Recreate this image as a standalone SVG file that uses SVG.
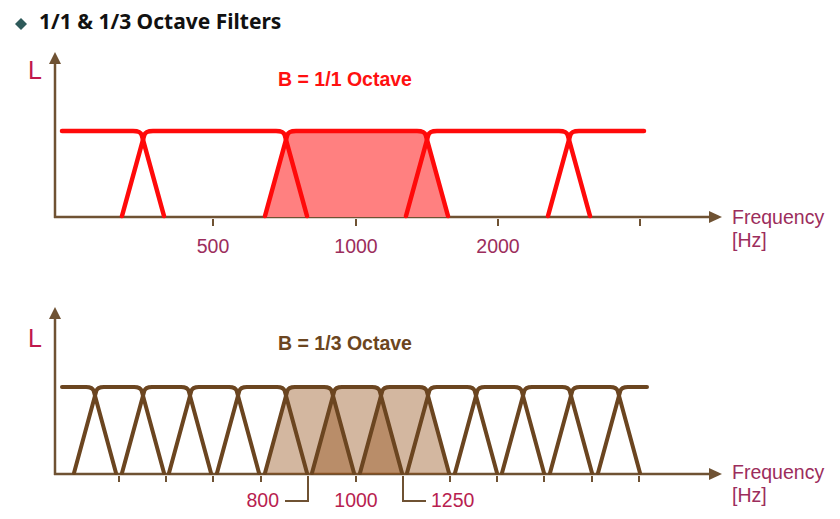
<svg xmlns="http://www.w3.org/2000/svg" width="840" height="519" viewBox="0 0 840 519">
<style>
.ax{stroke:#6f5233;stroke-width:2.5;fill:none}
.ah{fill:#6f5233}
.tk{stroke:#6f5233;stroke-width:2;fill:none}
.red{stroke:#ff0a0a;stroke-width:4.5;fill:none;stroke-linecap:round;stroke-linejoin:round}
.brn{stroke:#6b4520;stroke-width:4;fill:none;stroke-linecap:round;stroke-linejoin:round}
.rf{fill:#ff8080;stroke:none}
.bf{fill:rgb(150,83,28);fill-opacity:0.42;stroke:none}
.lab{font-family:"Liberation Sans",Arial,sans-serif;font-size:19.5px;fill:#9c2d5c}
.lab2{font-family:"Liberation Sans",Arial,sans-serif;font-size:19.5px;fill:#b81e50}
.L{font-family:"Liberation Sans",Arial,sans-serif;font-size:25px;fill:#c0184c}
.ttl{font-family:"Liberation Sans",Arial,sans-serif;font-weight:bold;font-size:19.5px}
</style>

<g id="title">
  <polygon points="21,18 27,24 21,30 15,24" fill="#2e5a5a"/>
  <text x="39" y="29" font-family="'Noto Sans','Liberation Sans',sans-serif" font-weight="bold" font-size="21" fill="#111">1/1 &amp; 1/3 Octave Filters</text>
</g>

<!-- Top chart: 1/1 octave -->
<g id="top-axes">
  <line class="ax" x1="55" y1="218" x2="55" y2="62"/>
  <polygon class="ah" points="55,52 49,64 61,64"/>
  <line class="ax" x1="54" y1="217" x2="711" y2="217"/>
  <polygon class="ah" points="722,217 709,211 709,223"/>
  <path class="tk" d="M213,219V226M356,219V226M498,219V226M640,219V226"/>
  <text class="L" x="28" y="79">L</text>
  <text class="lab" x="732" y="224">Frequency</text>
  <text class="lab" x="732" y="247">[Hz]</text>
  <text class="lab" x="213" y="253" text-anchor="middle">500</text>
  <text class="lab" x="356" y="253" text-anchor="middle">1000</text>
  <text class="lab" x="498" y="253" text-anchor="middle">2000</text>
  <text class="ttl" x="345" y="86" text-anchor="middle" fill="#ff1010">B = 1/1 Octave</text>
</g>

<g id="top-filters">
  <path id="r2fill" class="rf" d="M265,217 L287.3,135 Q288.5,131 295,131 H418 Q424.5,131 425.7,135 L448,217 Z"/>
  <path id="r0" class="red" d="M62,131 H133 Q140.5,131 141.7,135 L164,216"/>
  <path id="r1" class="red" d="M122,216 L144.3,135 Q145.5,131 153,131 H276 Q283.5,131 284.7,135 L307,216"/>
  <path id="r2" class="red" d="M265,216 L287.3,135 Q288.5,131 296,131 H417 Q424.5,131 425.7,135 L448,216"/>
  <path id="r3" class="red" d="M406,216 L428.3,135 Q429.5,131 437,131 H559 Q566.5,131 567.7,135 L590,216"/>
  <path id="r4" class="red" d="M548,216 L570.3,135 Q571.5,131 579,131 H644"/>
</g>

<!-- Bottom chart: 1/3 octave -->
<g id="bottom-axes">
  <line class="ax" x1="55" y1="475" x2="55" y2="317"/>
  <polygon class="ah" points="55,307 49,319 61,319"/>
  <line class="ax" x1="54" y1="474" x2="711" y2="474"/>
  <polygon class="ah" points="722,474 709,468 709,480"/>
  <path class="tk" d="M119,476V482M166,476V482M213,476V482M261,476V482M356,476V482M450,476V482M497,476V482M544,476V482M592,476V482M639,476V482"/>
  <path class="tk" d="M308,476V501H285M403,476V501H426"/>
  <text class="L" x="28" y="347">L</text>
  <text class="lab" x="732" y="479">Frequency</text>
  <text class="lab" x="732" y="502">[Hz]</text>
  <text class="lab2" x="279" y="507" text-anchor="end">800</text>
  <text class="lab2" x="356" y="507" text-anchor="middle">1000</text>
  <text class="lab2" x="431" y="507">1250</text>
  <text class="ttl" x="345" y="350" text-anchor="middle" fill="#6b4520">B = 1/3 Octave</text>
</g>

<g id="bottom-filters">
  <path class="bf" d="M265,474 L287.3,391 Q288.5,387 295,387 H324 Q330.5,387 331.7,391 L354,474 Z"/>
  <path class="bf" d="M312,474 L334.3,391 Q335.5,387 342,387 H372 Q378.5,387 379.7,391 L402,474 Z"/>
  <path class="bf" d="M360,474 L382.3,391 Q383.5,387 390,387 H419 Q425.5,387 426.7,391 L449,474 Z"/>
  <path class="brn" d="M62,387 H86 Q92.5,387 93.7,391 L116,473"/>
  <path class="brn" d="M74,473 L96.3,391 Q97.5,387 104,387 H134 Q140.5,387 141.7,391 L164,473"/>
  <path class="brn" d="M122,473 L144.3,391 Q145.5,387 152,387 H181 Q187.5,387 188.7,391 L211,473"/>
  <path class="brn" d="M169,473 L191.3,391 Q192.5,387 199,387 H229 Q235.5,387 236.7,391 L259,473"/>
  <path class="brn" d="M217,473 L239.3,391 Q240.5,387 247,387 H277 Q283.5,387 284.7,391 L307,473"/>
  <path class="brn" d="M265,473 L287.3,391 Q288.5,387 295,387 H324 Q330.5,387 331.7,391 L354,473"/>
  <path class="brn" d="M312,473 L334.3,391 Q335.5,387 342,387 H372 Q378.5,387 379.7,391 L402,473"/>
  <path class="brn" d="M360,473 L382.3,391 Q383.5,387 390,387 H419 Q425.5,387 426.7,391 L449,473"/>
  <path class="brn" d="M407,473 L429.3,391 Q430.5,387 437,387 H467 Q473.5,387 474.7,391 L497,473"/>
  <path class="brn" d="M455,473 L477.3,391 Q478.5,387 485,387 H514 Q520.5,387 521.7,391 L544,473"/>
  <path class="brn" d="M502,473 L524.3,391 Q525.5,387 532,387 H562 Q568.5,387 569.7,391 L592,473"/>
  <path class="brn" d="M550,473 L572.3,391 Q573.5,387 580,387 H610 Q616.5,387 617.7,391 L640,473"/>
  <path class="brn" d="M598,473 L620.3,391 Q621.5,387 628,387 H647"/>
</g>
</svg>
